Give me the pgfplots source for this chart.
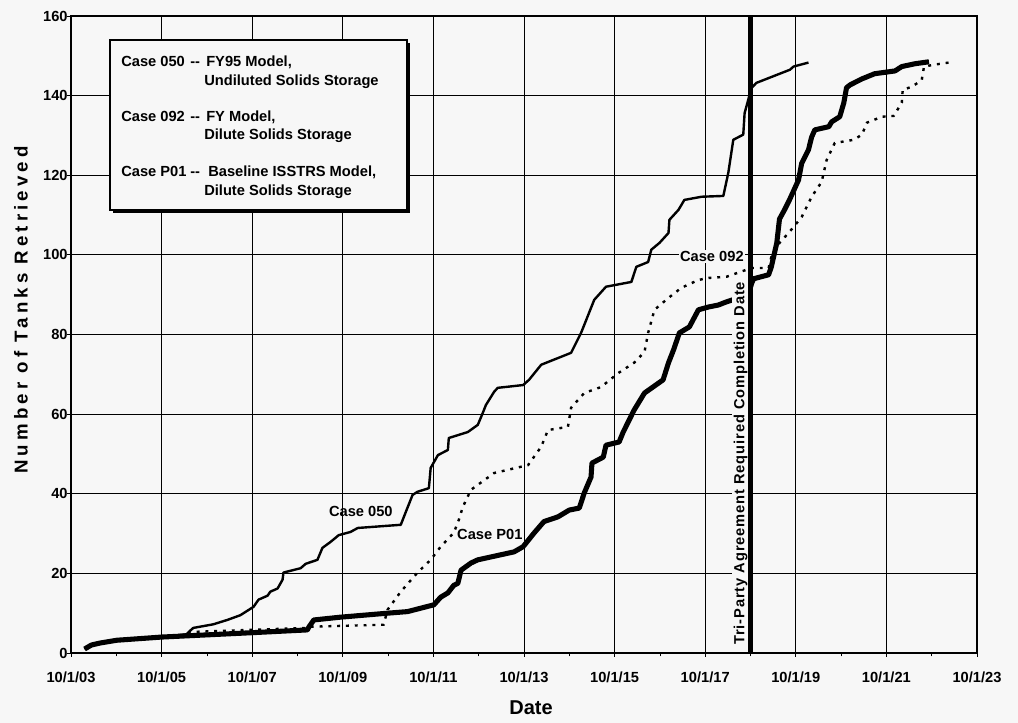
\documentclass[border=0pt]{standalone}
\usepackage{fontspec}
\setmainfont{Liberation Sans}
\usepackage{pgfplots}
\pgfplotsset{compat=1.18}
\definecolor{bg}{RGB}{247,247,247}
\begin{document}
\begin{tikzpicture}
\fill[bg] (-53.25pt,-52.5pt) rectangle (710.25pt,489.75pt);
\useasboundingbox (-53.25pt,-52.5pt) rectangle (710.25pt,489.75pt);
\begin{axis}[
  scale only axis, width=679.5pt, height=477.75pt,
  xmin=0, xmax=20, ymin=0, ymax=160,
  xtick={0,2,...,20},
  xticklabels={10/1/03,10/1/05,10/1/07,10/1/09,10/1/11,10/1/13,10/1/15,10/1/17,10/1/19,10/1/21,10/1/23},
  minor x tick num=1,
  ytick={0,20,...,160},
  grid=major, major grid style={black, line width=0.6pt},
  axis line style={line width=0.8pt},
  tick align=outside, major tick length=3pt, minor tick length=2.5pt,
  tick style={black, line width=0.6pt},
  xtick pos=left, ytick pos=left,
  tick label style={font=\bfseries\fontsize{11}{13}\selectfont},
  xticklabel style={yshift=-7.5pt},
  yticklabel style={xshift=4pt},
  /pgf/number format/assume math mode=true,
]
% Case 050
\addplot[black, line width=1.8pt, line join=round] coordinates {
(0.30,1.0)(0.45,2.0)(0.64,2.5)(1.01,3.2)(2.0,4.0)(2.55,4.7)(2.65,5.8)(2.70,6.3)(3.14,7.2)(3.45,8.3)(3.74,9.5)(4.03,11.6)(4.14,13.4)(4.34,14.4)(4.40,15.4)(4.56,16.2)(4.67,18.4)(4.69,20.2)(5.07,21.3)(5.18,22.4)(5.44,23.4)(5.55,26.4)(5.73,27.9)(5.91,29.6)(6.17,30.4)(6.33,31.4)(7.28,32.2)(7.39,35.4)(7.54,39.7)(7.65,40.5)(7.90,41.4)(7.94,46.5)(8.10,49.7)(8.32,51.0)(8.34,54.0)(8.76,55.5)(8.98,57.3)(9.09,60.3)(9.16,62.3)(9.34,65.6)(9.42,66.6)(9.98,67.3)(10.11,68.6)(10.38,72.4)(11.04,75.4)(11.26,80.4)(11.55,88.7)(11.81,92.0)(12.37,93.2)(12.48,97.0)(12.74,98.2)(12.81,101.3)(12.99,103.0)(13.19,105.5)(13.21,108.8)(13.41,111.3)(13.54,113.8)(13.92,114.6)(14.40,114.8)(14.51,120.6)(14.62,128.9)(14.84,130.2)(14.87,135.6)(15.02,141.9)(15.13,143.2)(15.87,146.5)(15.95,147.3)(16.28,148.3)
};
% Case 092
\addplot[black, line width=1.8pt, dash pattern=on 2.2pt off 4.4pt] coordinates {
(0.30,1.0)(0.45,2.0)(0.64,2.5)(1.01,3.2)(2.0,4.0)(2.6,4.7)(2.7,5.3)(5.2,6.3)(5.3,6.6)(6.9,7.1)(6.99,10.9)(7.28,15.4)(7.65,20.2)(7.94,23.4)(8.16,26.7)(8.45,30.2)(8.56,33.4)(8.65,36.7)(8.83,41.0)(9.34,45.2)(10.09,47.2)(10.38,51.8)(10.53,56.0)(10.97,56.8)(11.04,61.6)(11.33,65.3)(11.70,66.8)(12.08,70.3)(12.43,72.9)(12.66,75.6)(12.74,80.4)(12.88,86.2)(13.19,89.2)(13.47,91.7)(13.85,93.7)(14.07,94.2)(14.47,94.5)(15.02,96.7)(15.40,96.7)(15.46,99.5)(15.64,103.0)(15.84,105.5)(15.95,107.0)(16.13,109.5)(16.35,114.6)(16.57,118.3)(16.68,123.8)(16.86,128.1)(17.28,128.9)(17.46,130.2)(17.57,133.2)(17.90,134.7)(18.16,134.9)(18.34,138.2)(18.36,141.5)(18.56,142.2)(18.78,143.9)(18.83,147.3)(19.07,147.8)(19.38,148.3)
};
% Case P01
\addplot[black, line width=3.8pt, line join=round] coordinates {
(0.30,1.0)(0.45,2.0)(0.64,2.5)(1.01,3.2)(2.0,4.0)(4.0,5.1)(5.22,5.8)(5.25,6.5)(5.36,8.3)(5.95,9.0)(6.99,10.0)(7.43,10.4)(8.01,12.1)(8.16,14.0)(8.32,15.1)(8.45,17.0)(8.54,17.5)(8.61,20.8)(8.83,22.6)(8.98,23.4)(9.78,25.4)(9.98,26.7)(10.22,30.1)(10.44,33.0)(10.75,34.2)(11.00,35.9)(11.22,36.4)(11.33,40.2)(11.48,44.2)(11.50,47.7)(11.75,49.2)(11.81,52.2)(12.10,53.0)(12.19,55.5)(12.43,61.0)(12.66,65.3)(13.07,68.6)(13.19,72.9)(13.30,76.1)(13.43,80.4)(13.65,81.9)(13.85,86.2)(14.07,86.9)(14.29,87.4)(14.47,88.2)(14.95,90.0)(15.03,93.0)(15.07,94.0)(15.40,95.0)(15.46,97.0)(15.58,103.0)(15.64,109.0)(15.75,111.3)(15.86,113.8)(16.06,118.8)(16.13,123.0)(16.28,126.4)(16.35,129.6)(16.42,131.4)(16.73,132.2)(16.79,133.4)(16.97,134.7)(17.06,138.2)(17.12,142.0)(17.20,142.7)(17.46,144.2)(17.74,145.5)(18.19,146.2)(18.34,147.3)(18.63,148.0)(18.94,148.5)
};
\node[anchor=base west, inner sep=0pt, font=\bfseries\fontsize{11}{13}\selectfont] at (axis cs:5.69,34.25) {Case 050};
\node[anchor=base west, inner sep=0pt, font=\bfseries\fontsize{11}{13}\selectfont] at (axis cs:8.52,28.4) {Case P01};
\node[anchor=base west, inner sep=1pt, fill=bg, font=\bfseries\fontsize{11}{13}\selectfont] at (axis cs:13.41,98.3) {Case 092};
\node[rotate=90, anchor=west, inner sep=1.5pt, fill=bg, font=\bfseries\fontsize{11}{13}\selectfont\addfontfeature{LetterSpace=6}] at (axis cs:14.78,1.5) {Tri-Party Agreement Required Completion Date};
% completion date line
\addplot[black, line width=4pt] coordinates {(15,0)(15,160)};
\end{axis}
% legend box
\fill[black] (31.5pt,330pt) rectangle (254.25pt,457.5pt);
\draw[fill=bg, line width=0.8pt] (29.25pt,332.25pt) rectangle (252pt,459.75pt);
\begin{scope}[every node/.style={anchor=base west, inner sep=0pt, font=\bfseries\fontsize{11}{13}\selectfont}]
\node at (37.5pt,439.7pt) {Case 050};
\node at (89.25pt,439.7pt) {-{}-};
\node at (101.25pt,439.7pt) {FY95 Model,};
\node at (99.75pt,425.8pt) {Undiluted Solids Storage};
\node at (37.5pt,398.25pt) {Case 092};
\node at (89.25pt,398.25pt) {-{}-};
\node at (101.25pt,398.25pt) {FY Model,};
\node at (99.75pt,384.75pt) {Dilute Solids Storage};
\node at (37.5pt,357pt) {Case P01};
\node at (89.25pt,357pt) {-{}-};
\node at (102.75pt,357pt) {Baseline ISSTRS Model,};
\node at (99.75pt,343pt) {Dilute Solids Storage};
\end{scope}
\node[rotate=90, font=\bfseries\fontsize{14}{16}\selectfont\addfontfeature{LetterSpace=22}] at (-37.5pt,257.25pt) {Number of Tanks Retrieved};
\node[anchor=base, font=\bfseries\fontsize{15}{17}\selectfont] at (345pt,-46.5pt) {Date};
\end{tikzpicture}
\end{document}
